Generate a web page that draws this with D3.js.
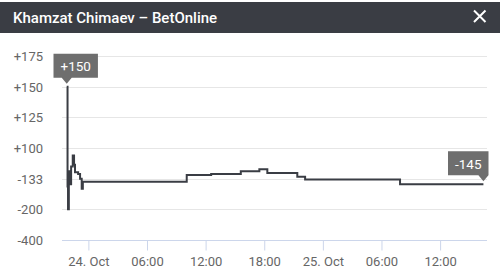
<!DOCTYPE html>
<meta charset="utf-8">
<script src="https://d3js.org/d3.v7.min.js"></script>
<style>
  body { margin: 0; background: #fff; }
  text { font-family: Roboto, "Noto Sans", sans-serif; }
</style>
<body>
<div id="my_dataviz"></div>
<script>
// odds ticks on the y axis (evenly spaced, not linear)
var oddsTicks = [-400, -200, -133, 100, 125, 150, 175];

// odds history
var times = ["2020-10-23 21:47", "2020-10-23 21:52", "2020-10-23 21:55", "2020-10-23 22:00",
             "2020-10-23 22:06", "2020-10-23 22:14", "2020-10-23 22:24", "2020-10-23 22:32",
             "2020-10-23 22:38", "2020-10-23 22:57", "2020-10-23 23:09", "2020-10-23 23:19",
             "2020-10-23 23:26", "2020-10-24 10:04", "2020-10-24 12:34", "2020-10-24 15:36",
             "2020-10-24 17:30", "2020-10-24 18:19", "2020-10-24 21:23", "2020-10-24 22:11",
             "2020-10-25 07:54", "2020-10-25 16:26"];
var odds = [150, -150, -200, -125, -145, -120, -108, -118, -126, -128, -133, -155,
            -140, -129, -128, -125, -123, -127, -131, -135, -145, -145];

var width = 500, height = 269;
var margin = {top: 56, right: 13, bottom: 29, left: 62};

var parse = d3.timeParse("%Y-%m-%d %H:%M");
var data = times.map(function (t, i) { return {date: parse(t), value: odds[i]}; });

// -100 and +100 are the same point, so fold odds onto one line
function fold(v) { return v < 0 ? v + 100 : v - 100; }

var svg = d3.select("#my_dataviz")
  .append("svg")
    .attr("width", width)
    .attr("height", height);

// header bar
svg.append("rect")
  .attr("x", 0).attr("y", 2)
  .attr("width", width).attr("height", 31)
  .attr("fill", "#3a3d44");
svg.append("text")
  .attr("x", 13).attr("y", 22.5)
  .attr("fill", "#fff")
  .style("font-size", "15px")
  .style("font-weight", "500")
  .text("Khamzat Chimaev \u2013 BetOnline");
svg.append("path")
  .attr("d", "M474,10.5L485.5,22M485.5,10.5L474,22")
  .attr("stroke", "#fff")
  .attr("stroke-width", 2);

var x = d3.scaleTime()
  .domain([parse("2020-10-23 21:18"), parse("2020-10-25 16:48")])
  .range([margin.left, width - margin.right]);

var yBottom = height - margin.bottom, yTop = margin.top;
var y = d3.scaleLinear()
  .domain(oddsTicks.map(fold))
  .range(oddsTicks.map(function (d, i) {
    return yBottom - i * (yBottom - yTop) / (oddsTicks.length - 1);
  }));

// grid lines
svg.append("g")
  .selectAll("line")
  .data(oddsTicks.slice(1))
  .enter()
  .append("line")
    .attr("x1", margin.left).attr("x2", width - margin.right)
    .attr("y1", function (d) { return Math.round(y(fold(d))) + 0.5; })
    .attr("y2", function (d) { return Math.round(y(fold(d))) + 0.5; })
    .attr("stroke", "#e6e6e6");

// y labels
svg.append("g")
  .selectAll("text")
  .data(oddsTicks)
  .enter()
  .append("text")
    .attr("x", 43)
    .attr("y", function (d) { return y(fold(d)) + 5; })
    .attr("text-anchor", "end")
    .attr("fill", "#666")
    .style("font-size", "13px")
    .text(function (d) { return d > 0 ? "+" + d : d; });

// x axis
var xAxis = svg.append("g")
  .attr("transform", "translate(0," + (yBottom + 0.5) + ")")
  .call(d3.axisBottom(x)
    .ticks(d3.timeHour.every(6))
    .tickSize(10)
    .tickPadding(6)
    .tickFormat(function (d) {
      return d.getHours() === 0 ? d3.timeFormat("%-d. %b")(d) : d3.timeFormat("%H:%M")(d);
    }));
xAxis.select(".domain").attr("stroke", "#ccd6eb").attr("d", "M" + margin.left + ",0H" + (width - margin.right));
xAxis.selectAll(".tick line").attr("stroke", "#ccd6eb");
xAxis.selectAll(".tick text")
  .attr("fill", "#666")
  .style("font-size", "13px")
  .style("font-family", "Roboto, sans-serif");

// odds line
var line = d3.line()
  .curve(d3.curveStepAfter)
  .x(function (d) { return x(d.date); })
  .y(function (d) { return y(fold(d.value)); });

svg.append("path")
  .datum(data)
  .attr("d", line)
  .attr("fill", "none")
  .attr("stroke", "#3a3d44")
  .attr("stroke-width", 2);

// callout labels on first and last point
var callouts = [data[0], data[data.length - 1]];
var g = svg.append("g");
callouts.forEach(function (d) {
  var px = x(d.date), py = y(fold(d.value));
  var label = d.value > 0 ? "+" + d.value : "" + d.value;
  var t = g.append("text")
    .attr("fill", "#fff")
    .style("font-size", "13.5px")
    .attr("text-anchor", "middle")
    .text(label);
  var w = t.node().getComputedTextLength() + 14, h = 24;
  var tip = py - 3, bottom = tip - 6;
  var left = Math.max(53.5, Math.min(488.5 - w, px - w / 2));
  g.insert("path", "text")
    .attr("d", "M" + left + "," + (bottom - h) + "h" + w + "v" + h +
      "H" + (px + 5) + "L" + px + "," + tip + "L" + (px - 5) + "," + bottom + "H" + left + "Z")
    .attr("fill", "#6e6e6e");
  t.attr("x", left + w / 2).attr("y", bottom - 6.5);
});
</script>
</body>
